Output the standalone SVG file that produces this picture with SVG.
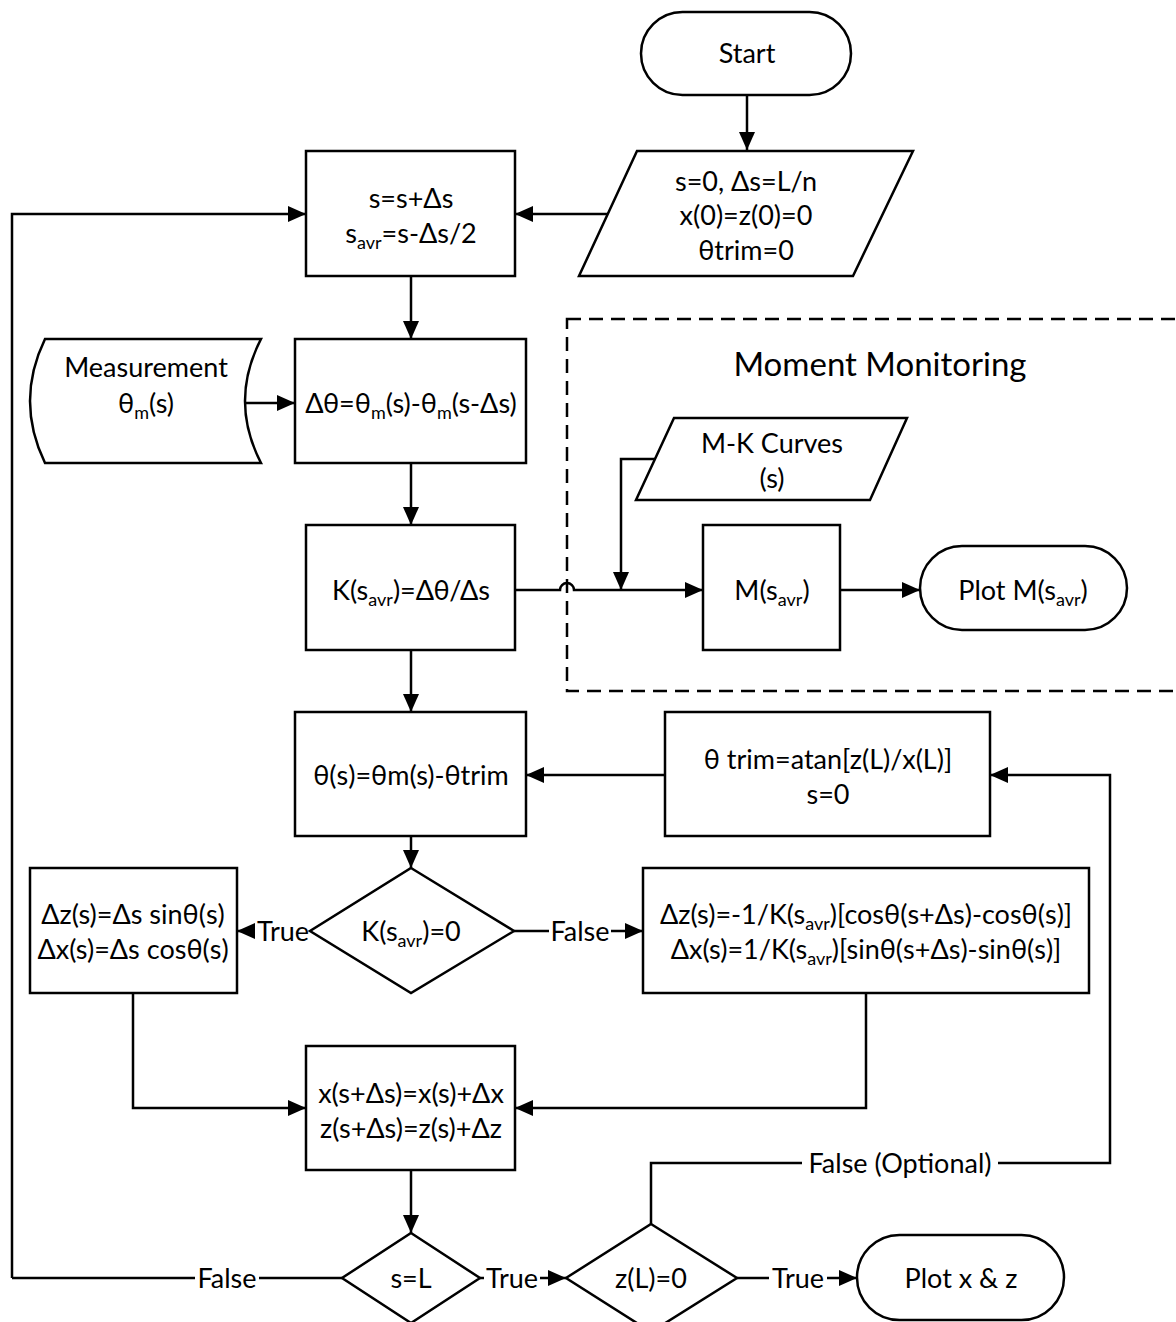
<svg xmlns="http://www.w3.org/2000/svg" width="1176" height="1322" viewBox="0 0 1176 1322">
<defs>
<marker id="arr" markerWidth="20" markerHeight="16" refX="18" refY="8" orient="auto" markerUnits="userSpaceOnUse">
<path d="M0,0 L18,8 L0,16 Z" fill="#000"/>
</marker>
<style>
.n{fill:#fff;stroke:#000;stroke-width:2.5}
.c{fill:none;stroke:#000;stroke-width:2.5}
.a{fill:none;stroke:#000;stroke-width:2.5;marker-end:url(#arr)}
text{font-family:Lato,"Liberation Sans",sans-serif;font-size:27px;fill:#000;text-anchor:middle}
.sub{font-size:18px}
.big{font-size:33px}
.bg{fill:#fff;stroke:none}
</style>
</defs>
<rect width="1176" height="1322" fill="#fff"/>

<g id="connectors">
<path class="a" d="M747,95 V150"/>
<path class="a" d="M608,214 H515"/>
<path class="a" d="M12,1278 V214 H306"/>
<path class="c" d="M342,1278 H12"/>
<path class="a" d="M411,276 V339"/>
<path class="a" d="M245,403 H295"/>
<path class="a" d="M411,463 V525"/>
<path class="a" d="M515,590 H560 a7,7 0 0 1 14,0 H703"/>
<path class="a" d="M655,459 H621 V590"/>
<path class="a" d="M840,590 H920"/>
<path class="a" d="M411,650 V712"/>
<path class="a" d="M665,775 H526"/>
<path class="a" d="M651,1224 V1163 H1110 V775 H990"/>
<path class="a" d="M411,836 V868"/>
<path class="a" d="M310,931 H237"/>
<path class="a" d="M514,931 H643"/>
<path class="a" d="M133,993 V1108 H306"/>
<path class="a" d="M866,993 V1108 H515"/>
<path class="a" d="M411,1170 V1233"/>
<path class="a" d="M480,1278 H566"/>
<path class="a" d="M737,1278 H857"/>
<g id="edge-labels">
<rect class="bg" x="255" y="916" width="56" height="30"/>
<text x="283" y="941">True</text>
<rect class="bg" x="549" y="916" width="62" height="30"/>
<text x="580" y="941">False</text>
<rect class="bg" x="195" y="1263" width="64" height="30"/>
<text x="227" y="1288">False</text>
<rect class="bg" x="484" y="1263" width="56" height="30"/>
<text x="512" y="1288">True</text>
<rect class="bg" x="769" y="1263" width="58" height="30"/>
<text x="798" y="1288">True</text>
<rect class="bg" x="802" y="1148" width="196" height="30"/>
<text x="900" y="1173">False (Optional)</text>
</g>
</g>

<g id="moment-monitoring">
<rect x="567" y="319" width="700" height="372" fill="none" stroke="#000" stroke-width="2.5" stroke-dasharray="14,8"/>
<text class="big" x="880" y="376">Moment Monitoring</text>
</g>

<g id="start">
<rect class="n" x="641" y="12" width="210" height="83" rx="41.5"/>
<text x="747" y="63">Start</text>
</g>

<g id="init">
<path class="n" d="M637,151 H913 L853,276 H579 Z"/>
<text x="746" y="191">s=0, Δs=L/n</text>
<text x="746" y="225">x(0)=z(0)=0</text>
<text x="746" y="260">θtrim=0</text>
</g>

<g id="step">
<rect class="n" x="306" y="151" width="209" height="125"/>
<text x="411" y="208">s=s+Δs</text>
<text x="411" y="243">s<tspan class="sub" dy="6">avr</tspan><tspan dy="-6">=s-Δs/2</tspan></text>
</g>

<g id="measurement">
<path class="n" d="M45,339 H261 Q229,401 261,463 H45 Q15,401 45,339 Z"/>
<text x="146" y="377">Measurement</text>
<text x="146" y="413">θ<tspan class="sub" dy="6">m</tspan><tspan dy="-6">(s)</tspan></text>
</g>

<g id="dtheta">
<rect class="n" x="295" y="339" width="231" height="124"/>
<text x="411" y="413">Δθ=θ<tspan class="sub" dy="6">m</tspan><tspan dy="-6">(s)-θ</tspan><tspan class="sub" dy="6">m</tspan><tspan dy="-6">(s-Δs)</tspan></text>
</g>

<g id="curvature">
<rect class="n" x="306" y="525" width="209" height="125"/>
<text x="411" y="600">K(s<tspan class="sub" dy="6">avr</tspan><tspan dy="-6">)=Δθ/Δs</tspan></text>
</g>

<g id="mk-curves">
<path class="n" d="M674,418 H907 L870,500 H636 Z"/>
<text x="772" y="453">M-K Curves</text>
<text x="772" y="488">(s)</text>
</g>

<g id="moment">
<rect class="n" x="703" y="525" width="137" height="125"/>
<text x="772" y="600">M(s<tspan class="sub" dy="6">avr</tspan><tspan dy="-6">)</tspan></text>
</g>

<g id="plot-m">
<rect class="n" x="920" y="546" width="207" height="84" rx="42"/>
<text x="1023" y="600">Plot M(s<tspan class="sub" dy="6">avr</tspan><tspan dy="-6">)</tspan></text>
</g>

<g id="theta">
<rect class="n" x="295" y="712" width="231" height="124"/>
<text x="411" y="785">θ(s)=θm(s)-θtrim</text>
</g>

<g id="trim">
<rect class="n" x="665" y="712" width="325" height="124"/>
<text x="828" y="769">θ trim=atan[z(L)/x(L)]</text>
<text x="828" y="804">s=0</text>
</g>

<g id="k-zero">
<path class="n" d="M411,868 L514,931 L411,993 L310,931 Z"/>
<text x="411" y="941">K(s<tspan class="sub" dy="6">avr</tspan><tspan dy="-6">)=0</tspan></text>
</g>

<g id="straight">
<rect class="n" x="30" y="868" width="207" height="125"/>
<text x="133" y="924">Δz(s)=Δs sinθ(s)</text>
<text x="133" y="959">Δx(s)=Δs cosθ(s)</text>
</g>

<g id="arc">
<rect class="n" x="643" y="868" width="446" height="125"/>
<text x="866" y="924">Δz(s)=-1/K(s<tspan class="sub" dy="6">avr</tspan><tspan dy="-6">)[cosθ(s+Δs)-cosθ(s)]</tspan></text>
<text x="866" y="959">Δx(s)=1/K(s<tspan class="sub" dy="6">avr</tspan><tspan dy="-6">)[sinθ(s+Δs)-sinθ(s)]</tspan></text>
</g>

<g id="update">
<rect class="n" x="306" y="1046" width="209" height="124"/>
<text x="411" y="1103">x(s+Δs)=x(s)+Δx</text>
<text x="411" y="1138">z(s+Δs)=z(s)+Δz</text>
</g>

<g id="s-eq-L">
<path class="n" d="M411,1233 L480,1278 L411,1323 L342,1278 Z"/>
<text x="411" y="1288">s=L</text>
</g>

<g id="z-zero">
<path class="n" d="M651,1224 L737,1278 L651,1332 L566,1278 Z"/>
<text x="651" y="1288">z(L)=0</text>
</g>

<g id="plot-xz">
<rect class="n" x="857" y="1235" width="207" height="85" rx="42.5"/>
<text x="961" y="1288">Plot x &amp; z</text>
</g>
</svg>
